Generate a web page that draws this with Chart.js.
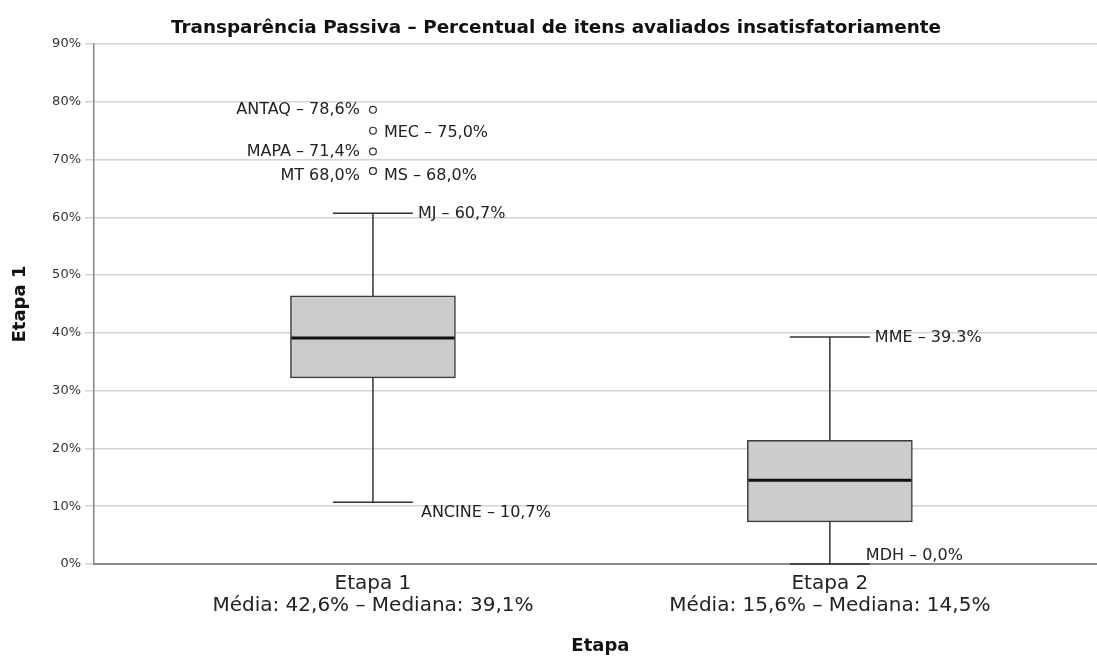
<!DOCTYPE html>
<html>
<head>
<meta charset="utf-8">
<script src="https://cdn.jsdelivr.net/npm/chart.js@4.4.1/dist/chart.umd.min.js"></script>
<style>
  html, body { margin: 0; padding: 0; background: #fff; overflow: hidden; }
  #wrap { width: 1112px; height: 657px; }
</style>
</head>
<body>
<div id="wrap"><canvas id="boxplot"></canvas></div>
<script>
// categorias e estatisticas (percentual de itens insatisfatorios)
const etapas = ['Etapa 1', 'Etapa 2'];
const medias = ['42,6%', '15,6%'];
const medianasTxt = ['39,1%', '14,5%'];
const q1 = [32.2, 7.3];
const mediana = [39.1, 14.5];
const q3 = [46.4, 21.4];
const minimo = [10.7, 0.0];
const maximo = [60.7, 39.3];
const minLabels = ['ANCINE – 10,7%', 'MDH – 0,0%'];
const maxLabels = ['MJ – 60,7%', 'MME – 39.3%'];

// outliers (todos na Etapa 1)
const outlierValues = [78.6, 75.0, 71.4, 68.0, 68.0];
const outlierLabels = ['ANTAQ – 78,6%', 'MEC – 75,0%', 'MAPA – 71,4%', 'MT 68,0%', 'MS – 68,0%'];

const yTicks = [0, 10, 20, 30, 40, 50, 60, 70, 80, 90];

const FONT = "'DejaVu Sans', Verdana, sans-serif";

const boxParts = {
	id: 'boxParts',
	beforeDatasetsDraw(chart) {
		const {ctx, scales: {x, y}} = chart;
		ctx.save();
		ctx.strokeStyle = '#333';
		ctx.lineWidth = 1.5;
		etapas.forEach((e, i) => {
			const cx = x.getPixelForValue(i + 1);
			const cap = 40;
			ctx.beginPath();
			ctx.moveTo(cx, y.getPixelForValue(q3[i]));
			ctx.lineTo(cx, y.getPixelForValue(maximo[i]));
			ctx.moveTo(cx, y.getPixelForValue(q1[i]));
			ctx.lineTo(cx, y.getPixelForValue(minimo[i]));
			ctx.moveTo(cx - cap, y.getPixelForValue(maximo[i]));
			ctx.lineTo(cx + cap, y.getPixelForValue(maximo[i]));
			ctx.moveTo(cx - cap, y.getPixelForValue(minimo[i]));
			ctx.lineTo(cx + cap, y.getPixelForValue(minimo[i]));
			ctx.stroke();
		});
		ctx.restore();
	},
	afterDatasetsDraw(chart) {
		const {ctx, scales: {x, y}} = chart;
		const meta = chart.getDatasetMeta(1);
		ctx.save();
		// medianas
		ctx.strokeStyle = '#111';
		ctx.lineWidth = 3;
		meta.data.forEach((bar, i) => {
			const half = bar.width / 2 - 1;
			const py = y.getPixelForValue(mediana[i]);
			ctx.beginPath();
			ctx.moveTo(bar.x - half, py);
			ctx.lineTo(bar.x + half, py);
			ctx.stroke();
		});

		// rotulos
		ctx.font = '16px ' + FONT;
		ctx.fillStyle = '#222';
		ctx.textBaseline = 'middle';
		const minOff = [[48, 11], [36, -8]];
		etapas.forEach((e, i) => {
			const cx = x.getPixelForValue(i + 1);
			ctx.textAlign = 'left';
			ctx.fillText(maxLabels[i], cx + 45, y.getPixelForValue(maximo[i]) + 1);
			ctx.fillText(minLabels[i], cx + minOff[i][0], y.getPixelForValue(minimo[i]) + minOff[i][1]);
		});
		const sides = ['left', 'right', 'left', 'left', 'right'];
		const dys = [0, 2, 0, 5, 5];
		const cx = x.getPixelForValue(1);
		outlierValues.forEach((v, i) => {
			const py = y.getPixelForValue(v) + dys[i];
			if (sides[i] === 'left') {
				ctx.textAlign = 'right';
				ctx.fillText(outlierLabels[i], cx - 13, py);
			} else {
				ctx.textAlign = 'left';
				ctx.fillText(outlierLabels[i], cx + 11, py);
			}
		});
		ctx.restore();
	}
};

const config_boxplot = {
	type: 'bar',
	data: {
		datasets: [
			{
				type: 'scatter',
				label: 'Outliers',
				data: outlierValues.map(v => ({x: 1, y: v})),
				pointRadius: 3.4,
				pointBorderWidth: 1.2,
				pointBackgroundColor: '#fff',
				pointBorderColor: '#333',
				order: 0,
			},
			{
				label: 'Caixa',
				data: etapas.map((e, i) => ({x: i + 1, y: [q1[i], q3[i]]})),
				barThickness: 165,
				backgroundColor: '#cccccc',
				borderColor: '#3a3a3a',
				borderWidth: 1.5,
				borderSkipped: false,
				order: 1,
			},
		]
	},
	options: {
		responsive: true,
		maintainAspectRatio: false,
		animation: false,
		layout: { padding: 0 },
		plugins: {
			legend: { display: false },
			tooltip: { enabled: false },
			title: {
				display: true,
				text: 'Transparência Passiva – Percentual de itens avaliados insatisfatoriamente',
				color: '#111',
				font: { family: FONT, size: 18.4, weight: 'bold', lineHeight: 1.2 },
				padding: { top: 17, bottom: 4.9 },
			}
		},
		scales: {
			x: {
				type: 'linear',
				offset: false,
				min: 0.3895,
				max: 2.6061,
				afterBuildTicks: scale => {
					scale.ticks = etapas.map((e, i) => ({value: i + 1}));
				},
				afterFit: scale => { scale.height = 93; },
				ticks: {
					autoSkip: false,
					maxRotation: 0,
					padding: 9,
					color: '#222',
					font: { family: FONT, size: 20, lineHeight: 1.1 },
					callback: value => {
						const i = Math.round(value) - 1;
						return [etapas[i], 'Média: ' + medias[i] + ' – Mediana: ' + medianasTxt[i]];
					}
				},
				grid: { display: false, drawTicks: false, offset: false },
				border: { display: true, color: '#8c8c8c', width: 2 },
				title: {
					display: true,
					text: 'Etapa',
					color: '#111',
					font: { family: FONT, size: 18, weight: 'bold', lineHeight: 1.2 },
					padding: { top: 0, bottom: 0 },
				}
			},
			y: {
				min: 0,
				max: 90,
				afterBuildTicks: scale => {
					scale.ticks = yTicks.map(v => ({value: v}));
				},
				afterFit: scale => { scale.width = 94; },
				ticks: {
					padding: 4,
					color: '#333',
					font: { family: FONT, size: 13 },
					callback: v => v + '%',
				},
				grid: {
					color: '#d4d4d4',
					lineWidth: 1.5,
					tickLength: 9,
				},
				border: { display: true, color: '#888', width: 1.5 },
				title: {
					display: true,
					text: 'Etapa 1',
					color: '#111',
					font: { family: FONT, size: 18, weight: 'bold', lineHeight: 1.2 },
					padding: { top: 10, bottom: 0 },
				}
			},
		}
	},
	plugins: [boxParts],
};

const boxplot = new Chart(
	document.getElementById('boxplot'),
	config_boxplot
);
</script>
</body>
</html>
